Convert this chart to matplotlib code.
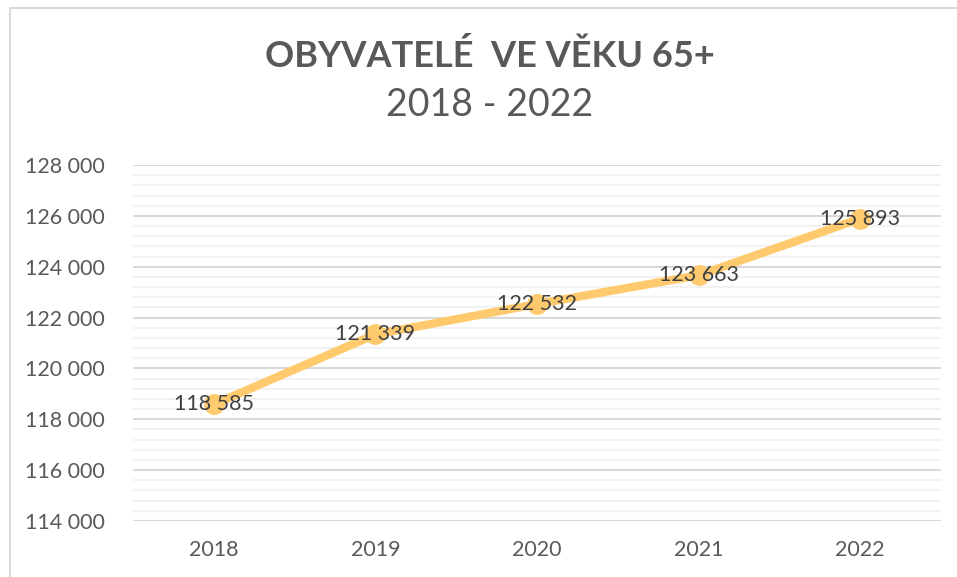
import matplotlib
matplotlib.use("Agg")
import matplotlib.pyplot as plt
from matplotlib.ticker import FuncFormatter, MultipleLocator
from matplotlib.patches import Rectangle

years = ["2018", "2019", "2020", "2021", "2022"]
seniors = [118585, 121339, 122532, 123663, 125893]

title_main = "OBYVATELÉ  VE VĚKU 65+"
title_sub = "2018 - 2022"

plt.rcParams['font.family'] = ['Lato', 'DejaVu Sans']

def fmt(v, pos=None):
    return f"{int(round(v)):,}".replace(",", " ")

fig = plt.figure(figsize=(9.57, 5.77), dpi=100)
fig.patch.set_facecolor("white")

# chart frame (runs off the right and bottom edge)
fig.add_artist(Rectangle((9.5 / 957, -0.05), 1.2, 1 - 7.5 / 577 + 0.05,
                         transform=fig.transFigure, fill=False,
                         edgecolor="#D9D9D9", linewidth=1.5))

ax = fig.add_axes([133 / 957, 1 - 521 / 577, (941 - 133) / 957, (521 - 165) / 577])
x = list(range(len(years)))
ax.plot(x, seniors, color="#FFCA6E", linewidth=6, marker="o", markersize=14,
        solid_capstyle="round", zorder=3)

for xi, v in zip(x, seniors):
    ax.text(xi, v, fmt(v), ha="center", va="center", fontsize=15.5,
            color="#404040", zorder=4)

ax.set_xlim(-0.5, len(years) - 0.5)
ax.set_ylim(114000, 128000)
ax.yaxis.set_major_locator(MultipleLocator(2000))
ax.yaxis.set_minor_locator(MultipleLocator(400))
ax.yaxis.set_major_formatter(FuncFormatter(fmt))
ax.set_xticks(x)
ax.set_xticklabels(years)
ax.grid(which="major", axis="y", color="#D9D9D9", linewidth=1.5, zorder=0)
ax.grid(which="minor", axis="y", color="#F2F2F2", linewidth=1.5, zorder=0)
ax.set_axisbelow(True)
for s in ax.spines.values():
    s.set_visible(False)
ax.tick_params(axis="both", which="both", length=0, labelsize=15.5,
               labelcolor="#595959")
ax.tick_params(axis="y", pad=20)
ax.tick_params(axis="x", pad=14)

fig.text(490 / 957, 1 - 56 / 577, title_main, ha="center", va="center",
         fontsize=26, fontweight="bold", color="#595959")
fig.text(490 / 957, 1 - 105 / 577, title_sub, ha="center", va="center",
         fontsize=27, color="#595959")

fig.savefig("out.png", dpi=100)
